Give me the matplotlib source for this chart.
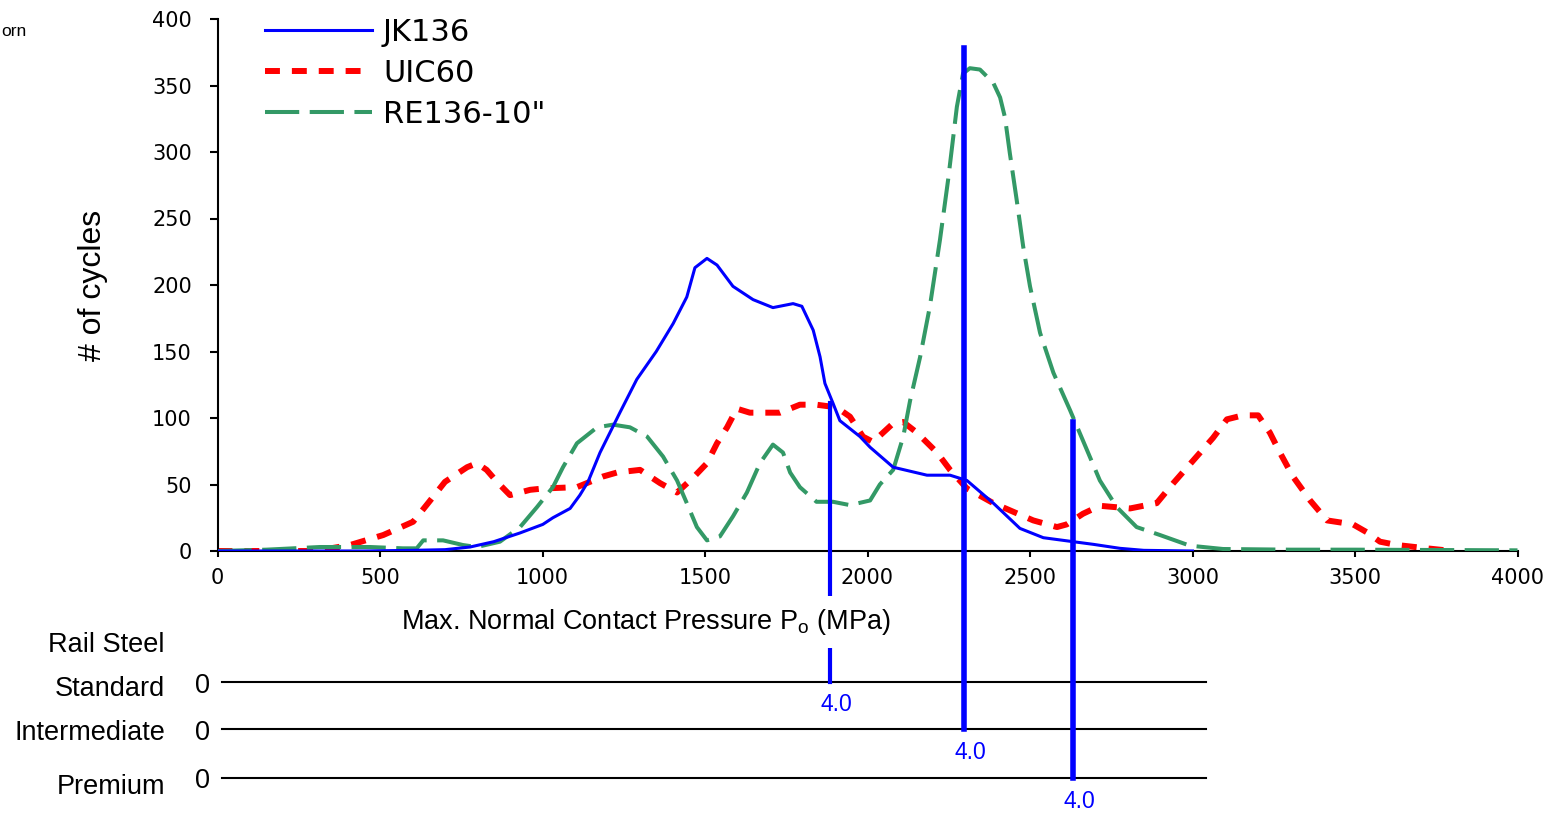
import matplotlib
matplotlib.use("Agg")
import matplotlib.pyplot as plt

# contact pressure distributions (MPa, # of cycles)
jk_x = [0, 300, 450, 600, 700, 777, 850, 930, 1001, 1032, 1085, 1115, 1140, 1177, 1238, 1290,
        1350, 1402, 1444, 1469, 1506, 1537, 1586, 1648, 1709, 1771, 1798, 1833, 1854, 1869,
        1894, 1915, 1977, 2008, 2079, 2183, 2254, 2306, 2387, 2469, 2541, 2633, 2695, 2777,
        2850, 3000]
jk_y = [0, 0, 0, 0.5, 1, 3, 7, 13.5, 20, 25, 32, 42, 52, 74, 104, 129,
        150, 171, 191, 213, 220, 215, 199, 189, 183, 186, 184, 166, 146, 126,
        111, 98, 86, 78, 63, 57, 57, 53, 36, 17, 10, 7, 5, 2,
        0.5, 0]

uic_x = [0, 300, 408, 510, 602, 648, 700, 768, 798, 828, 860, 900, 962, 1002, 1106, 1186,
         1229, 1300, 1362, 1414, 1463, 1506, 1537, 1568, 1598, 1638, 1690, 1731, 1792, 1843,
         1905, 1946, 1986, 2017, 2079, 2110, 2152, 2214, 2254, 2306, 2387, 2510, 2583, 2613,
         2663, 2715, 2808, 2890, 2941, 3002, 3063, 3106, 3155, 3202, 3238, 3269, 3309, 3362,
         3414, 3494, 3537, 3577, 3629, 3721, 3800]
uic_y = [0, 0, 4.5, 12, 22, 36, 52, 63, 66, 61, 52, 42, 46, 47, 48, 56,
         59, 61, 51, 44, 55, 66, 81, 93, 107, 104, 104, 104, 110, 110,
         108, 101, 86, 82, 96, 97, 89, 74, 61, 47, 36, 23, 18, 20,
         28, 34, 32, 36, 51, 68, 85, 99, 102, 102, 89, 74, 56, 38,
         23, 20, 14, 7, 4.5, 2, 0]

re_x = [0, 150, 315, 469, 571, 613, 633, 694, 755, 798, 869, 931, 983, 1032, 1063, 1106,
        1168, 1217, 1269, 1322, 1371, 1414, 1444, 1475, 1506, 1546, 1586, 1629, 1669, 1709,
        1740, 1762, 1792, 1843, 1894, 1946, 2008, 2038, 2079, 2110, 2131, 2162, 2192, 2223,
        2248, 2275, 2294, 2315, 2346, 2387, 2408, 2423, 2438, 2459, 2479, 2500, 2531, 2572,
        2623, 2663, 2715, 2767, 2828, 2900, 2992, 3094, 3300, 3500, 4000]
re_y = [0, 1, 3, 3, 2, 2, 8, 8, 4.5, 3, 7, 18, 33, 48, 63, 81,
        93, 95, 93, 86, 71, 53, 36, 18, 8, 11, 26, 44, 66, 80,
        74, 59, 48, 37, 37, 34.5, 38, 50, 61, 86, 113, 146, 184, 234,
        279, 334, 359, 363, 362, 352, 341, 326, 299, 264, 229, 199, 164, 134,
        106, 83, 53, 33, 18, 12, 4, 1.5, 1, 1, 0.5]

# threshold markers for each rail steel grade
steel_names = ["Standard", "Intermediate", "Premium"]
steel_values = ["0", "0", "0"]
limit_x = [1886, 2297, 2632]
limit_top = [111, 378, 97]
limit_labels = ["4.0", "4.0", "4.0"]

x_ticks = list(range(0, 4001, 500))
y_ticks = list(range(0, 401, 50))

W, H = 1565, 816
BLUE, RED, GREEN = "#0000FF", "#FF0000", "#339966"

plt.rcParams["font.family"] = ["Liberation Sans", "DejaVu Sans"]


def fx(px):
    return px / W


def fy(py):
    return 1 - py / H


fig = plt.figure(figsize=(W / 100, H / 100), dpi=100)
ax = fig.add_axes([fx(217.5), fy(551), 1300 / W, 532 / H])

ax.plot(uic_x, uic_y, color=RED, lw=4.3, dashes=(2.5, 2.0), zorder=2, label="UIC60")
ax.plot(re_x, re_y, color=GREEN, lw=2.9, dashes=(8.5, 2.6), zorder=3, label='RE136-10"')
ax.plot(jk_x, jk_y, color=BLUE, lw=2.2, zorder=4, label="JK136")

ax.set_xlim(0, 4000)
ax.set_ylim(0, 400)
ax.set_xticks(x_ticks)
ax.set_xticklabels([str(t) for t in x_ticks], fontfamily="DejaVu Sans", fontsize=15)
ax.set_yticks(y_ticks)
ax.set_yticklabels([str(t) for t in y_ticks], fontfamily="DejaVu Sans", fontsize=15)
ax.tick_params(axis="x", direction="out", length=4.5, width=1.5, pad=8)
ax.tick_params(axis="y", direction="out", length=6, width=1.5, pad=12.5)
for side in ["top", "right"]:
    ax.spines[side].set_visible(False)
for side in ["left", "bottom"]:
    ax.spines[side].set_linewidth(1.5)

# lower panel: one row per rail steel grade, drawn below the axis
row_y = [-98.5, -134, -171]
for i in range(3):
    ax.plot([14, 3040], [row_y[i], row_y[i]], color="black", lw=1.5, clip_on=False)
    lw = 3 if i == 0 else 4
    ax.plot([limit_x[i], limit_x[i]], [limit_top[i], row_y[i]], color=BLUE, lw=lw,
            clip_on=False, zorder=5)
    ax.annotate(limit_labels[i], xy=(limit_x[i], row_y[i]), xytext=(4.5, -16.5),
                textcoords="offset points", ha="center", va="center",
                color=BLUE, fontsize=16.5, annotation_clip=False)

name_y = [689, 733, 787]
value_y = [686, 733, 781]
fig.text(fx(165), fy(645), "Rail Steel", ha="right", va="center", fontsize=19.5)
for i in range(3):
    fig.text(fx(165), fy(name_y[i]), steel_names[i], ha="right", va="center", fontsize=19.5)
    fig.text(fx(203), fy(value_y[i]), steel_values[i], ha="center", va="center", fontsize=19.5)

fig.text(fx(646), fy(622), r"Max. Normal Contact Pressure P$_\mathregular{o}$ (MPa)",
         ha="center", va="center", fontsize=19.5,
         bbox=dict(facecolor="white", edgecolor="none", pad=8))

fig.text(fx(93), fy(285), "# of cycles", rotation=90, ha="center", va="center",
         fontsize=23, family=["Liberation Sans Narrow", "Liberation Sans"])

fig.text(fx(1), fy(31), "orn", ha="left", va="center", fontsize=12.5)

handles, labels = ax.get_legend_handles_labels()
order = [2, 0, 1]
ax.legend([handles[i] for i in order], [labels[i] for i in order],
          loc="upper left", bbox_to_anchor=(fx(265), fy(18)), bbox_transform=fig.transFigure,
          frameon=False, prop={"family": "DejaVu Sans", "size": 22},
          handlelength=3.5, handletextpad=0.36, labelspacing=0.39,
          borderpad=0, borderaxespad=0)

fig.savefig("out.png", dpi=100)
